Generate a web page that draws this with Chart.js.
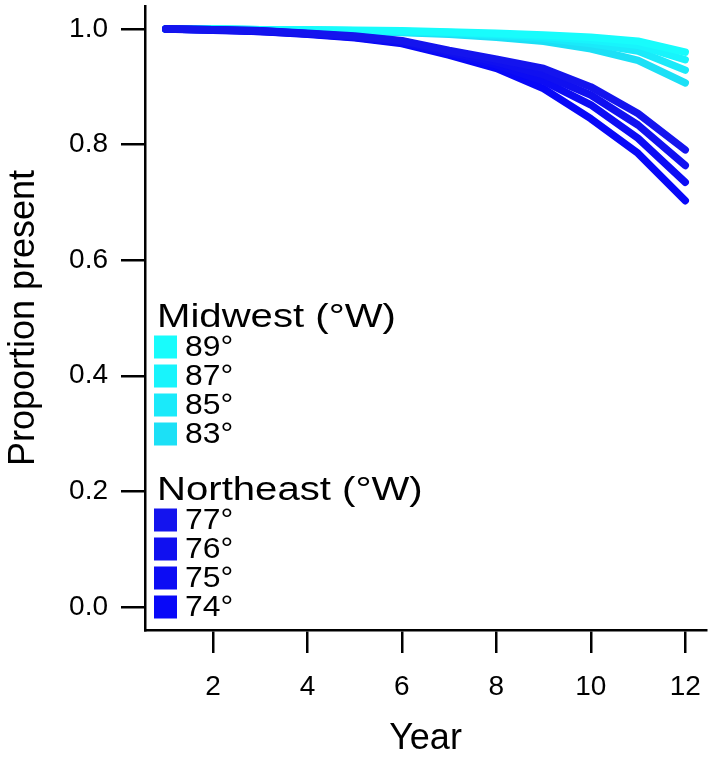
<!DOCTYPE html>
<html>
<head>
<meta charset="utf-8">
<script src="https://cdn.jsdelivr.net/npm/chart.js@4"></script>
<style>
  body { margin: 0; background: #ffffff; }
  #wrap { width: 709px; height: 763px; position: relative; }
</style>
</head>
<body>
<div id="wrap"><canvas id="chartCanvas"></canvas></div>
<script>
const years = [1, 2, 3, 4, 5, 6, 7, 8, 9, 10, 11, 12];
const xTicks = [2, 4, 6, 8, 10, 12];
const yTicks = [0, 0.2, 0.4, 0.6, 0.8, 1.0];

// Midwest (degrees W)
const midwestLabels = ["89°", "87°", "85°", "83°"];
const mw89 = [1, 1.0, 0.999, 0.999, 0.998, 0.997, 0.995, 0.993, 0.990, 0.986, 0.979, 0.960];
const mw87 = [1, 1.0, 0.999, 0.998, 0.997, 0.996, 0.994, 0.991, 0.987, 0.981, 0.972, 0.947];
const mw85 = [1, 1.0, 0.999, 0.998, 0.997, 0.995, 0.993, 0.989, 0.984, 0.975, 0.962, 0.929];
const mw83 = [1, 0.999, 0.998, 0.997, 0.996, 0.994, 0.991, 0.986, 0.979, 0.966, 0.946, 0.907];

// Northeast (degrees W)
const northeastLabels = ["77°", "76°", "75°", "74°"];
const ne77 = [1, 0.999, 0.997, 0.993, 0.988, 0.980, 0.963, 0.948, 0.932, 0.900, 0.854, 0.791];
const ne76 = [1, 0.999, 0.997, 0.992, 0.987, 0.979, 0.960, 0.943, 0.921, 0.886, 0.834, 0.764];
const ne75 = [1, 0.999, 0.996, 0.992, 0.986, 0.977, 0.958, 0.938, 0.910, 0.869, 0.811, 0.735];
const ne74 = [1, 0.998, 0.996, 0.991, 0.985, 0.975, 0.955, 0.932, 0.897, 0.845, 0.785, 0.703];

const midwestColors = ["#18fcfc", "#18f4fc", "#1aeafa", "#1ce0f6"];
const northeastColors = ["#1414ee", "#1010f0", "#0c0cf4", "#0808f8"];

const FONT = "'Liberation Sans', Arial, Helvetica, sans-serif";

function makeSet(label, values, color, group, order) {
  return {
    label: label,
    group: group,
    data: values.map((v, i) => ({ x: years[i], y: v })),
    borderColor: color,
    backgroundColor: color,
    borderWidth: 7.5,
    pointRadius: 0,
    tension: 0,
    borderCapStyle: "round",
    borderJoinStyle: "round",
    fill: false,
    order: order
  };
}

const datasets = [
  makeSet(midwestLabels[0], mw89, midwestColors[0], "Midwest", 2),
  makeSet(midwestLabels[1], mw87, midwestColors[1], "Midwest", 2),
  makeSet(midwestLabels[2], mw85, midwestColors[2], "Midwest", 2),
  makeSet(midwestLabels[3], mw83, midwestColors[3], "Midwest", 2),
  makeSet(northeastLabels[0], ne77, northeastColors[0], "Northeast", 1),
  makeSet(northeastLabels[1], ne76, northeastColors[1], "Northeast", 1),
  makeSet(northeastLabels[2], ne75, northeastColors[2], "Northeast", 1),
  makeSet(northeastLabels[3], ne74, northeastColors[3], "Northeast", 1)
];

/* =========================
   Grouped legend inside plot
========================= */
function wideText(ctx, text, x, y, stretch) {
  ctx.save();
  ctx.translate(x, y);
  ctx.scale(stretch, 1);
  ctx.fillText(text, 0, 0);
  ctx.restore();
}

const groupLegend = {
  id: "groupLegend",
  afterDraw: (chart) => {
    const ctx = chart.ctx;
    const groups = [
      { title: "Midwest (°W)", name: "Midwest", top: 327 },
      { title: "Northeast (°W)", name: "Northeast", top: 500 }
    ];
    ctx.save();
    groups.forEach(g => {
      ctx.font = "34px " + FONT;
      ctx.textBaseline = "alphabetic";
      ctx.textAlign = "left";
      ctx.fillStyle = "#000000";
      wideText(ctx, g.title, 157, g.top, 1.18);
      const sets = chart.data.datasets.filter(d => d.group === g.name);
      sets.forEach((d, i) => {
        const cy = g.top + 20 + i * 29;
        ctx.fillStyle = d.borderColor;
        ctx.fillRect(154, cy - 11.5, 23, 23);
        ctx.fillStyle = "#000000";
        ctx.font = "29px " + FONT;
        ctx.textBaseline = "middle";
        wideText(ctx, d.label, 185, cy + 1, 1.1);
      });
    });
    ctx.restore();
  }
};

const ctx = document.getElementById("chartCanvas").getContext("2d");
new Chart(ctx, {
  type: "line",
  data: { datasets: datasets },
  options: {
    responsive: true,
    maintainAspectRatio: false,
    animation: false,
    layout: { padding: { top: 6, right: 3, left: 0, bottom: 0 } },
    plugins: {
      legend: { display: false },
      tooltip: { enabled: false }
    },
    scales: {
      x: {
        type: "linear",
        position: "bottom",
        min: 0.56,
        max: 12.44,
        afterBuildTicks: (scale) => { scale.ticks = xTicks.map(v => ({ value: v })); },
        afterFit: (scale) => {
          scale.height = 133;
          scale.paddingLeft = 0;
          scale.paddingRight = 0;
        },
        ticks: {
          color: "#000000",
          font: { family: FONT, size: 28 },
          padding: 17,
          maxRotation: 0,
          callback: (v) => String(v)
        },
        grid: {
          display: true,
          drawOnChartArea: false,
          drawTicks: true,
          tickLength: 23,
          color: "#000000",
          lineWidth: 2.5
        },
        border: { display: true, color: "#000000", width: 2.5 },
        title: {
          display: true,
          text: "Year",
          color: "#000000",
          font: { family: FONT, size: 36, lineHeight: 1.2 },
          padding: { top: 0, bottom: 2 }
        }
      },
      y: {
        type: "linear",
        min: -0.04,
        max: 1.04,
        afterBuildTicks: (scale) => { scale.ticks = yTicks.map(v => ({ value: v })); },
        afterFit: (scale) => {
          scale.width = 145;
          scale.paddingTop = 0;
          scale.paddingBottom = 0;
        },
        ticks: {
          color: "#000000",
          font: { family: FONT, size: 28 },
          padding: 13,
          callback: (v) => Number(v).toFixed(1)
        },
        grid: {
          display: true,
          drawOnChartArea: false,
          drawTicks: true,
          tickLength: 24,
          color: "#000000",
          lineWidth: 2.5
        },
        border: { display: true, color: "#000000", width: 2.5 },
        title: {
          display: true,
          text: "Proportion present",
          color: "#000000",
          font: { family: FONT, size: 36, lineHeight: 1.2 },
          padding: { top: 2, bottom: 0 }
        }
      }
    }
  },
  plugins: [groupLegend]
});
</script>
</body>
</html>
